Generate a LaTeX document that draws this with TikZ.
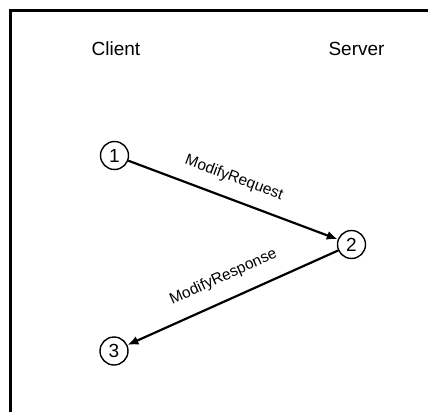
\documentclass[tikz,border=0pt]{standalone}
\usepackage{fontspec}
\setmainfont{Liberation Sans}
\usetikzlibrary{arrows.meta}
\begin{document}
\begin{tikzpicture}[x=1pt,y=-1pt,
  party/.style={font=\fontsize{19}{22}\selectfont, inner sep=0pt},
  stepnum/.style={circle, draw, line width=1.4pt, minimum size=28pt, inner sep=0pt,
    font=\fontsize{19}{22}\selectfont},
  msg/.style={line width=2.2pt, -{Latex[length=11pt,width=9pt]}},
  msglabel/.style={font=\fontsize{15.5}{18}\selectfont, sloped}]
  \useasboundingbox (0,0) rectangle (428,412);
  % open frame: only its top and left sides fall inside the page
  \draw[line width=2.2pt] (428,10.5) -- (10.5,10.5) -- (10.5,412);
  % parties
  \node[party] (client) at (116,49) {Client};
  \node[party] (server) at (356.5,49) {Server};
  % message steps
  \node[stepnum] (s1) at (114.5,155.5) {1};
  \node[stepnum] (s2) at (351.5,244.5) {2};
  \node[stepnum] (s3) at (114,351) {3};
  % messages
  \draw[msg] (s1) -- node[msglabel, pos=0.47, above=9pt] {ModifyRequest} (s2);
  \draw[msg] (s2) -- node[msglabel, pos=0.5, above=11pt] {ModifyResponse} (s3);
\end{tikzpicture}
\end{document}
